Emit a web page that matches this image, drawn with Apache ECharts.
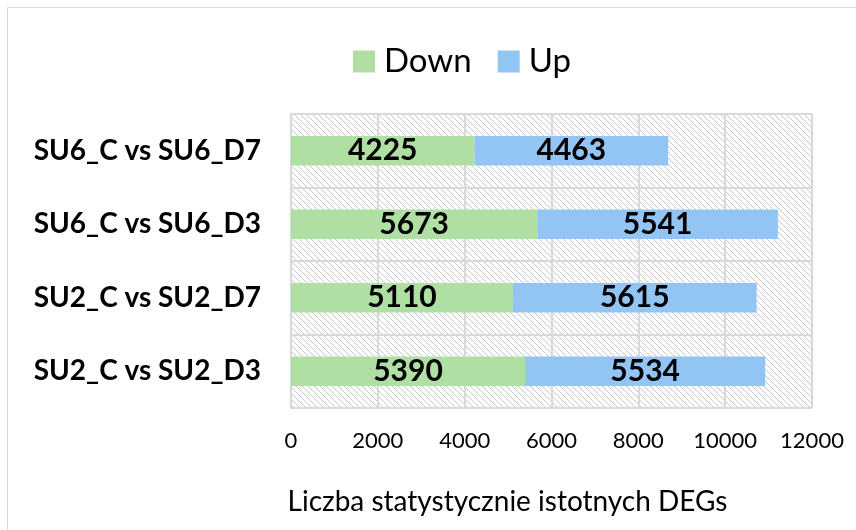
<!DOCTYPE html>
<html>
<head>
<meta charset="utf-8">
<script src="https://cdn.jsdelivr.net/npm/echarts@6/dist/echarts.min.js"></script>
<style>
  html, body { margin: 0; padding: 0; background: #fff; }
  #chart { width: 856px; height: 530px; }
</style>
</head>
<body>
<div id="chart"></div>
<script>
const categories = ['SU2_C vs SU2_D3', 'SU2_C vs SU2_D7', 'SU6_C vs SU6_D3', 'SU6_C vs SU6_D7'];
const downValues = [5390, 5110, 5673, 4225];
const upValues = [5534, 5615, 5541, 4463];
const xTicks = { min: 0, max: 12000, interval: 2000 };

// hatched plot background, like the Excel pattern fill
function makeHatch() {
  const c = document.createElement('canvas');
  c.width = 6;
  c.height = 6;
  const ctx = c.getContext('2d');
  ctx.fillStyle = '#ffffff';
  ctx.fillRect(0, 0, 6, 6);
  ctx.strokeStyle = '#c9c9c9';
  ctx.lineWidth = 1;
  ctx.beginPath();
  ctx.moveTo(-1, -1); ctx.lineTo(7, 7);
  ctx.moveTo(-1, 5); ctx.lineTo(1, 7);
  ctx.moveTo(5, -1); ctx.lineTo(7, 1);
  ctx.stroke();
  return c;
}

const chart = echarts.init(document.getElementById('chart'));
const font = 'Lato, "Open Sans", sans-serif';

const labelStyle = {
  show: true,
  position: 'inside',
  color: '#000',
  fontWeight: 'bold',
  fontSize: 30,
  fontFamily: font
};

chart.setOption({
  animation: false,
  backgroundColor: '#fff',
  graphic: [{
    type: 'rect',
    shape: { x: 7.5, y: 7.5, width: 900, height: 600 },
    style: { fill: 'none', stroke: '#d9d9d9', lineWidth: 1 }
  }],
  legend: {
    top: 40,
    left: 348,
    itemWidth: 22,
    itemHeight: 22,
    itemGap: 26,
    icon: 'rect',
    textStyle: { fontSize: 33, fontFamily: font, color: '#000', padding: [0, 0, 0, 4] },
    data: ['Down', 'Up']
  },
  grid: {
    left: 291,
    right: 44,
    top: 114,
    bottom: 122,
    show: true,
    borderWidth: 0,
    backgroundColor: { image: makeHatch(), repeat: 'repeat' }
  },
  xAxis: {
    type: 'value',
    min: xTicks.min,
    max: xTicks.max,
    interval: xTicks.interval,
    name: 'Liczba statystycznie istotnych DEGs',
    nameLocation: 'middle',
    nameGap: 80,
    nameTextStyle: { fontSize: 28, fontFamily: font, color: '#000', padding: [0, 88, 0, 0] },
    axisLine: { show: false },
    axisTick: { show: false },
    axisLabel: {
      fontSize: 22, fontFamily: font, color: '#000', margin: 22,
      formatter: v => String(v)
    },
    splitLine: { show: true, lineStyle: { color: '#d9d9d9', width: 2 } }
  },
  yAxis: {
    type: 'category',
    data: categories,
    axisLine: { show: true, lineStyle: { color: '#d9d9d9', width: 2 } },
    axisTick: { show: false },
    axisLabel: { fontSize: 28, fontWeight: 'bold', fontFamily: font, color: '#000', margin: 30 },
    splitLine: { show: true, lineStyle: { color: '#d9d9d9', width: 2 } }
  },
  series: [
    {
      name: 'Down',
      type: 'bar',
      stack: 'total',
      barWidth: '40%',
      data: downValues,
      itemStyle: { color: '#b0dfa4' },
      label: labelStyle
    },
    {
      name: 'Up',
      type: 'bar',
      stack: 'total',
      data: upValues,
      itemStyle: { color: '#93c5f4' },
      label: labelStyle
    }
  ]
});
</script>
</body>
</html>
